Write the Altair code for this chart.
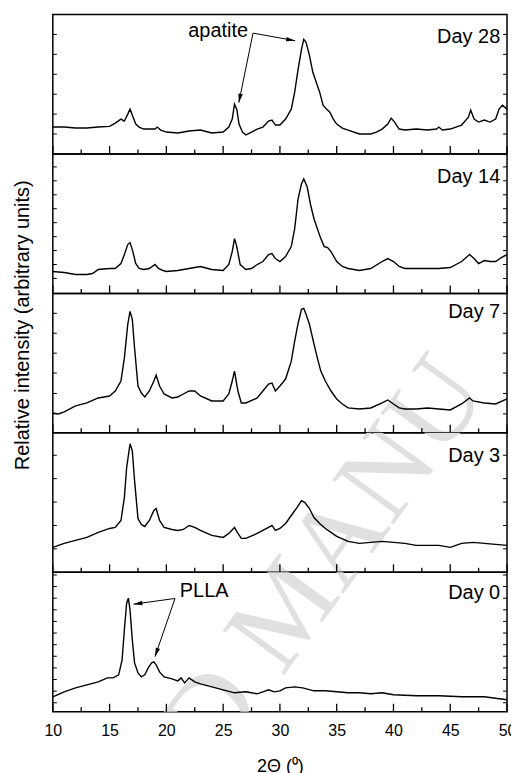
import math
import altair as alt
import pandas as pd

# ---------------- data (2-theta in degrees, relative intensity in arbitrary units) -------------
x28 = [10, 11, 12, 13, 14, 15, 15.5, 16, 16.3, 16.6, 16.8, 17.0, 17.3, 17.6, 18, 19, 19.2, 19.5, 20,
       21, 22, 23, 24, 25, 25.5, 25.8, 26.0, 26.2, 26.4, 26.7, 27, 27.5, 28, 28.5, 29, 29.3, 29.6, 30,
       30.5, 31, 31.3, 31.6, 31.9, 32.1, 32.3, 32.6, 32.9, 33.2, 33.5, 33.8, 34.1, 34.4, 34.7, 35,
       35.5, 36, 37, 38, 38.5, 39, 39.5, 39.8, 40.1, 40.5, 41, 42, 43, 43.8, 44, 44.3, 45,
       46, 46.6, 46.8, 47.1, 47.5, 48, 48.5, 49, 49.3, 49.6, 50]
y28 = [27, 27, 26, 26, 27, 27.7, 31, 35, 33, 40, 45, 39, 30, 27, 25, 25, 27, 24, 22,
       21, 23, 24, 21, 22, 27, 35, 50, 45, 30, 22, 19, 22, 25, 27, 33, 34, 29, 29,
       35, 45, 62, 85, 105, 115, 112, 99, 82, 72, 62, 49, 45, 42, 35, 30,
       26, 24, 20, 20, 22, 25, 30, 36, 32, 25, 24, 25, 24, 25, 27, 24, 25,
       29, 37, 44, 35, 32, 34, 32, 35, 45, 49, 45]

x14 = [10, 11, 12, 13, 13.5, 14, 15, 15.5, 16, 16.3, 16.6, 16.8, 17.0, 17.3, 17.6, 18, 18.5, 19, 19.3,
       19.7, 20, 21, 22, 23, 24, 25, 25.5, 25.8, 26.0, 26.2, 26.5, 27, 27.5, 28, 28.5, 29, 29.3, 29.6,
       30, 30.5, 31, 31.3, 31.6, 31.9, 32.1, 32.4, 32.7, 33.0, 33.3, 33.6, 33.9, 34.2, 34.5, 35, 35.5,
       36, 37, 38, 39, 39.5, 40, 40.5, 41, 42, 43, 44, 45, 46, 46.7, 47.1, 47.5, 48, 48.5, 49, 49.5, 50]
y14 = [22, 21, 19, 19, 20, 24, 25, 25, 30, 39, 49, 51, 44, 30, 25, 24, 25, 29, 25,
       23, 22, 23, 25, 27, 24, 23, 29, 42, 55, 47, 29, 24, 25, 29, 32, 39, 40, 35,
       32, 37, 47, 65, 95, 110, 115, 107, 89, 75, 65, 55, 47, 46, 42, 32, 27,
       25, 23, 25, 32, 35, 32, 27, 25, 25, 25, 25, 26, 32, 39, 35, 30, 33, 32, 32, 36, 39]

x7 = [10, 10.5, 11, 12, 13, 14, 15, 15.5, 16, 16.3, 16.6, 16.8, 17.0, 17.2, 17.5, 17.8, 18.1, 18.5,
      18.9, 19.1, 19.4, 19.8, 20.5, 21, 21.5, 22, 22.5, 23, 24, 25, 25.5, 25.8, 26.0, 26.3, 26.6, 27,
      28, 28.5, 29, 29.3, 29.6, 30, 30.5, 31, 31.3, 31.6, 31.9, 32.1, 32.3, 32.6, 33.0, 33.3, 33.6,
      34.0, 34.5, 35, 35.5, 36, 37, 38, 39, 39.5, 40, 40.5, 41, 42, 43, 44, 45, 46, 46.7, 47, 48, 49, 50]
y7 = [20, 19, 21, 27, 30, 35, 37, 42, 52, 75, 109, 122, 114, 85, 47, 40, 36, 42,
      52, 58, 47, 39, 35, 36, 39, 42, 42, 37, 32, 32, 39, 52, 62, 42, 30, 30,
      35, 42, 49, 50, 42, 47, 54, 72, 92, 110, 124, 125, 119, 109, 89, 75, 62,
      52, 42, 34, 29, 25, 24, 25, 30, 33, 29, 25, 24, 24, 25, 24, 23, 29, 35, 32, 30, 29, 34]

x3 = [10, 11, 12, 13, 14, 15, 15.5, 16, 16.3, 16.5, 16.8, 17.0, 17.2, 17.5, 17.8, 18.1, 18.5, 18.9,
      19.1, 19.4, 19.8, 20.5, 21, 21.5, 22, 22.5, 23, 24, 25, 25.5, 26.0, 26.3, 26.6, 27, 28, 28.5,
      29, 29.3, 29.6, 30, 30.5, 31, 31.5, 31.9, 32.2, 32.6, 33, 33.5, 34, 34.5, 35, 36, 37, 38, 39,
      40, 41, 42, 43, 44, 45, 46, 47, 48, 49, 50]
y3 = [25, 29, 32, 35, 40, 44, 45, 52, 75, 105, 129, 122, 92, 54, 48, 46, 52, 62,
      64, 52, 45, 43, 42, 43, 47, 45, 42, 37, 35, 39, 45, 39, 34, 34, 39, 42,
      45, 47, 42, 44, 49, 57, 65, 72, 70, 64, 55, 49, 44, 40, 36, 31, 29, 30, 31,
      30, 29, 27, 27, 27, 25, 29, 30, 29, 28, 27]

x0 = [10, 11, 12, 13, 14, 14.8, 15.3, 15.8, 16.1, 16.3, 16.5, 16.65, 16.8, 17.0, 17.2, 17.5, 17.8,
      18.1, 18.4, 18.7, 18.9, 19.1, 19.4, 19.8, 20.5, 21, 21.3, 21.6, 22, 22.5, 23, 24, 25, 26, 27,
      27.5, 28, 28.5, 29, 29.5, 30, 30.5, 31.3, 32, 33, 34, 35, 36, 37, 38, 39, 40, 42, 44, 46, 48, 50]
y0 = [15, 20, 24, 27, 30, 34, 34, 37, 52, 82, 109, 114, 102, 72, 49, 39, 35,
      37, 44, 49, 50, 47, 40, 35, 33, 31, 34, 29, 34, 30, 28, 25, 22, 19, 20,
      19, 18, 20, 22, 20, 21, 24, 25, 24, 21, 21, 20, 19, 19, 18, 19, 17, 16, 16, 15, 15, 12]

day_labels = ["Day 28", "Day 14", "Day 7", "Day 3", "Day 0"]
day_label_h = [111, 111, 115, 111, 112.7]

# y-axis ticks (each panel has its own intensity scale)
yticks28 = [20, 40, 60, 80, 100, 120]
yticks14 = [15, 29, 43, 57, 71, 85, 99, 113, 127]
yticks7 = [19, 39.5, 60, 80, 100, 120]
yticks3 = [23.5, 47, 70.5, 94, 117.5]
yticks0 = [9, 20.7, 32.3, 44, 55.7, 67.3, 79, 90.7, 102.3, 114, 125.7, 137.3]

major_ticks = [10, 15, 20, 25, 30, 35, 40, 45, 50]
minor_ticks = [12.5, 17.5, 22.5, 27.5, 32.5, 37.5, 42.5, 47.5]

# annotations (data coordinates)
apatite_text = ["apatite"]
apatite_pos = [24.56, 117]
apatite_start_x = [27.63, 27.63]
apatite_start_y = [121.3, 121.3]
apatite_tip_x = [26.38, 31.34]
apatite_tip_y = [51.5, 113.7]

plla_text = ["PLLA"]
plla_pos = [23.33, 115]
plla_start_x = [20.76, 20.76]
plla_start_y = [113.7, 113.7]
plla_tip_x = [17.1, 19.0]
plla_tip_y = [108, 55.3]

y_title = "Relative intensity (arbitrary units)"
x_title = "2\u0398 (\u2070)"
watermark_parts = ["MANU", "D"]

# ---------------- layout / style ----------------
W, H = 456, 140
X_MIN, X_MAX = 10, 50
H_MAX = 140
FONT = "Liberation Sans"
WM_POS = [(306, 502), (160, 703)]  # watermark pieces, centre relative to top-left of top panel

xscale = alt.Scale(domain=[X_MIN, X_MAX], nice=False, zero=False)
yscale = alt.Scale(domain=[0, H_MAX], nice=False, zero=False)

bottom_axis = alt.Axis(values=major_ticks, format="d", labelFont=FONT, labelFontSize=16,
                       labelColor="black", labelPadding=11, labelFlush=False, labelOverlap=False,
                       ticks=False, domain=False, grid=False, title=x_title, titleFont=FONT,
                       titleFontSize=18, titleFontWeight="normal", titleColor="black",
                       titlePadding=19)


def arrows(sx, sy, tx, ty, X, Y):
    px = W / (X_MAX - X_MIN)
    py = H / H_MAX
    ang = [math.degrees(math.atan2((b - a) * px, (d - c) * py)) % 360
           for a, b, c, d in zip(sx, tx, sy, ty)]
    df = pd.DataFrame({"x0": sx, "y0": sy, "x1": tx, "y1": ty, "ang": ang})
    lines = alt.Chart(df).mark_rule(color="black", strokeWidth=1).encode(
        x=X("x0"), x2="x1:Q", y=Y("y0"), y2="y1:Q")
    heads = alt.Chart(df).mark_point(shape="M0,0L-0.5,2L0.5,2Z", filled=True, size=81,
                                     color="black", opacity=1, strokeWidth=0).encode(
        x=X("x1"), y=Y("y1"), angle=alt.Angle("ang:Q", scale=None))
    return [lines, heads]


def make_panel(i, xv, yv, yt, xaxis=None):
    def X(f):
        return alt.X(f"{f}:Q", scale=xscale, axis=xaxis)

    def Y(f):
        return alt.Y(f"{f}:Q", scale=yscale, axis=None)

    layers = []
    for part, (wx, wy) in zip(watermark_parts, WM_POS):
        layers.append(alt.Chart(pd.DataFrame({"w": [part]})).mark_text(
            font="Liberation Serif", fontSize=116, color="#e0e0e0", angle=306, align="center",
            baseline="middle", clip=True).encode(
            text="w:N", x=alt.value(wx), y=alt.value(wy - i * H)))
    layers.append(alt.Chart(pd.DataFrame({"t": major_ticks})).mark_rule(
        color="black", strokeWidth=1.3).encode(x=X("t"), y=alt.value(H), y2=alt.value(H - 8)))
    layers.append(alt.Chart(pd.DataFrame({"t": minor_ticks})).mark_rule(
        color="black", strokeWidth=1.3).encode(x=X("t"), y=alt.value(H), y2=alt.value(H - 4.5)))
    layers.append(alt.Chart(pd.DataFrame({"v": yt})).mark_rule(
        color="black", strokeWidth=1).encode(y=Y("v"), x=alt.value(0), x2=alt.value(4)))
    layers.append(alt.Chart(pd.DataFrame({"v": yt})).mark_rule(
        color="black", strokeWidth=1).encode(y=Y("v"), x=alt.value(W), x2=alt.value(W - 4)))
    layers.append(alt.Chart(pd.DataFrame({"t": xv, "v": yv})).mark_line(
        color="black", strokeWidth=1.4).encode(x=X("t"), y=Y("v")))
    layers.append(alt.Chart(pd.DataFrame({"t": [49.4], "v": [day_label_h[i]],
                                          "s": [day_labels[i]]})).mark_text(
        font=FONT, fontSize=20, align="right", baseline="alphabetic", color="black").encode(
        x=X("t"), y=Y("v"), text="s:N"))
    if i == 0:
        layers.append(alt.Chart(pd.DataFrame({"t": [apatite_pos[0]], "v": [apatite_pos[1]],
                                              "s": apatite_text})).mark_text(
            font=FONT, fontSize=20, align="center", baseline="alphabetic", color="black").encode(
            x=X("t"), y=Y("v"), text="s:N"))
        layers += arrows(apatite_start_x, apatite_start_y, apatite_tip_x, apatite_tip_y, X, Y)
    if i == 2:
        layers.append(alt.Chart(pd.DataFrame({"s": [y_title]})).mark_text(
            font=FONT, fontSize=20, angle=270, align="center", baseline="middle",
            color="black").encode(text="s:N", x=alt.value(-30), y=alt.value(32)))
    if i == 4:
        layers.append(alt.Chart(pd.DataFrame({"t": [plla_pos[0]], "v": [plla_pos[1]],
                                              "s": plla_text})).mark_text(
            font=FONT, fontSize=20, align="center", baseline="alphabetic", color="black").encode(
            x=X("t"), y=Y("v"), text="s:N"))
        layers += arrows(plla_start_x, plla_start_y, plla_tip_x, plla_tip_y, X, Y)
    return alt.layer(*layers).properties(width=W, height=H)


panels = [
    make_panel(0, x28, y28, yticks28),
    make_panel(1, x14, y14, yticks14),
    make_panel(2, x7, y7, yticks7),
    make_panel(3, x3, y3, yticks3),
    make_panel(4, x0, y0, yticks0, xaxis=bottom_axis),
]

chart = alt.vconcat(*panels, spacing=0, bounds="flush").properties(
    padding={"left": 4, "top": 4, "right": -6, "bottom": 0}
).configure_view(stroke="black", strokeWidth=1.5)

chart.save("out.html", embed_options={"renderer": "svg", "actions": False})
